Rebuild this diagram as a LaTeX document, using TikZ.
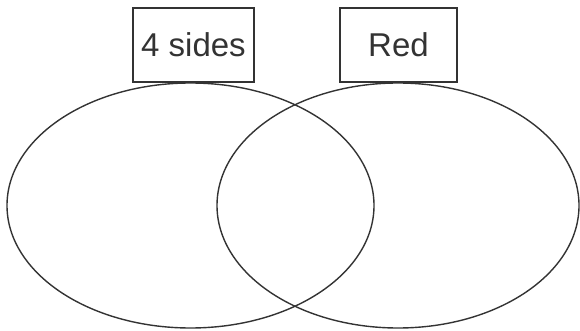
\documentclass[tikz,border=0pt]{standalone}
\usepackage{fontspec}
\setmainfont{Liberation Sans}
\usetikzlibrary{shapes.geometric, positioning}

\begin{document}
\begin{tikzpicture}[
    x=1pt, y=-1pt,
    setring/.style = {ellipse, draw, line width=1.4pt, draw=black!80, inner sep=0pt},
    tag/.style = {rectangle, draw, line width=1.4pt, draw=black!80, minimum width=120pt, minimum height=74pt, font=\fontsize{33}{33}\selectfont, text=black!80}
]
    \useasboundingbox (0,0) rectangle (580,331);
    % Sets
    \node (sides) [setring, minimum width=367pt, minimum height=245pt] at (190.5,205.5) {};
    \node (red) [setring, minimum width=362pt, minimum height=245pt] at (398,205.5) {};
    % Labels
    \node (sidestag) [tag, minimum width=121pt] at (193.5,45) {4 sides};
    \node (redtag) [tag, minimum width=117pt] at (398.5,45) {Red};
\end{tikzpicture}
\end{document}
